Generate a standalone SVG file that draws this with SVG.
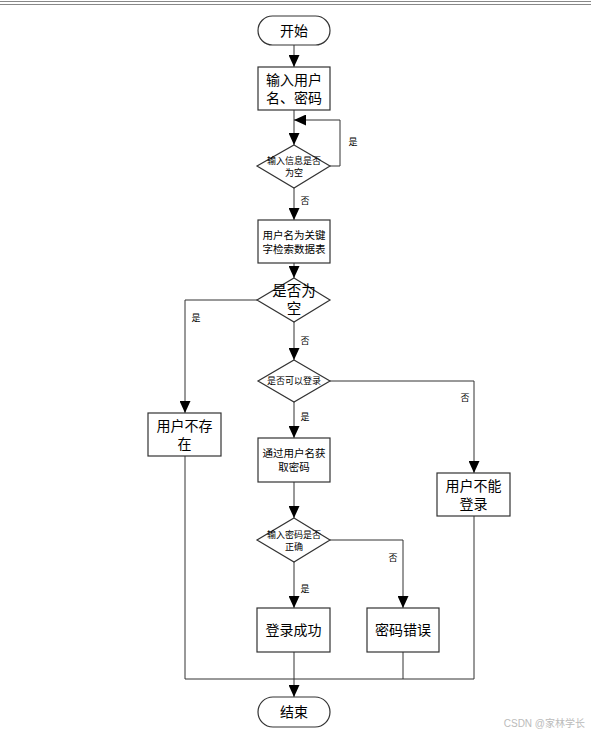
<svg xmlns="http://www.w3.org/2000/svg" width="591" height="737" viewBox="0 0 591 737">
<defs>
<marker id="arr" viewBox="0 0 12 11" refX="12" refY="5.5" markerWidth="12" markerHeight="11" markerUnits="userSpaceOnUse" orient="auto">
<path d="M0,0 L12,5.5 L0,11 Z" fill="#000"/>
</marker>
<style>
.shape{fill:#fff;stroke:#333;stroke-width:1.2}
.ln{fill:none;stroke:#333;stroke-width:1}
.t{font-family:"Liberation Sans","Noto Sans CJK SC",sans-serif;fill:#000;text-anchor:middle;dominant-baseline:central}
.big{font-size:14px}
.mid{font-size:10.5px}
.sm{font-size:9px}
.lbl{font-size:9px}
</style>
</defs>
<rect width="591" height="737" fill="#fff"/>
<line x1="0" y1="1.5" x2="591" y2="1.5" stroke="#888" stroke-width="1.2"/>
<line x1="0" y1="4.5" x2="591" y2="4.5" stroke="#888" stroke-width="1.2"/>

<g id="connectors">
<line class="ln" x1="294" y1="45" x2="294" y2="67" marker-end="url(#arr)"/>
<line class="ln" x1="294" y1="110" x2="294" y2="145" marker-end="url(#arr)"/>
<polyline class="ln" points="330,166 340,166 340,120 294,120" marker-end="url(#arr)"/>
<line class="ln" x1="294" y1="188" x2="294" y2="220" marker-end="url(#arr)"/>
<line class="ln" x1="294" y1="263" x2="294" y2="278" marker-end="url(#arr)"/>
<polyline class="ln" points="257,300 185,300 185,413" marker-end="url(#arr)"/>
<line class="ln" x1="294" y1="322" x2="294" y2="360" marker-end="url(#arr)"/>
<polyline class="ln" points="330,381 474,381 474,473" marker-end="url(#arr)"/>
<line class="ln" x1="294" y1="402" x2="294" y2="438" marker-end="url(#arr)"/>
<line class="ln" x1="294" y1="482" x2="294" y2="518" marker-end="url(#arr)"/>
<polyline class="ln" points="330,540 403,540 403,608" marker-end="url(#arr)"/>
<line class="ln" x1="294" y1="562" x2="294" y2="608" marker-end="url(#arr)"/>
<polyline class="ln" points="185,456 185,679 474,679 474,516"/>
<line class="ln" x1="403" y1="652" x2="403" y2="679"/>
<line class="ln" x1="294" y1="652" x2="294" y2="697" marker-end="url(#arr)"/>
<text class="t lbl" x="353" y="142">是</text>
<text class="t lbl" x="305" y="201">否</text>
<text class="t lbl" x="196" y="318">是</text>
<text class="t lbl" x="305" y="341">否</text>
<text class="t lbl" x="465" y="398">否</text>
<text class="t lbl" x="305" y="417">是</text>
<text class="t lbl" x="393" y="558">否</text>
<text class="t lbl" x="305" y="589">是</text>
</g>

<g id="start">
<rect class="shape" x="258" y="16" width="72" height="29" rx="14.5"/>
<text class="t big" x="294" y="30.5">开始</text>
</g>
<g id="input">
<rect class="shape" x="258" y="67" width="72" height="43"/>
<text class="t big" x="294" y="80">输入用户</text>
<text class="t big" x="294" y="98">名、密码</text>
</g>
<g id="check-empty">
<polygon class="shape" points="294,145 330,166 294,188 257,166"/>
<text class="t sm" x="294" y="161">输入信息是否</text>
<text class="t sm" x="294" y="173">为空</text>
</g>
<g id="search">
<rect class="shape" x="258" y="220" width="72" height="43"/>
<text class="t mid" x="294" y="235">用户名为关键</text>
<text class="t mid" x="294" y="249">字检索数据表</text>
</g>
<g id="is-null">
<polygon class="shape" points="294,278 330,300 294,322 257,300"/>
<text class="t" style="font-size:14.5px" x="294" y="291">是否为</text>
<text class="t" style="font-size:14.5px" x="294" y="309">空</text>
</g>
<g id="not-exist">
<rect class="shape" x="148" y="413" width="73" height="43"/>
<text class="t big" x="184.5" y="426">用户不存</text>
<text class="t big" x="184.5" y="444">在</text>
</g>
<g id="can-login">
<polygon class="shape" points="294,360 330,381 294,402 258,381"/>
<text class="t sm" x="294" y="381">是否可以登录</text>
</g>
<g id="get-pwd">
<rect class="shape" x="258" y="438" width="72" height="44"/>
<text class="t mid" x="294" y="453">通过用户名获</text>
<text class="t mid" x="294" y="467">取密码</text>
</g>
<g id="cannot-login">
<rect class="shape" x="437" y="473" width="73" height="43"/>
<text class="t big" x="473.5" y="486">用户不能</text>
<text class="t big" x="473.5" y="504">登录</text>
</g>
<g id="pwd-correct">
<polygon class="shape" points="294,518 330,540 294,562 257,540"/>
<text class="t sm" x="294" y="535">输入密码是否</text>
<text class="t sm" x="294" y="547">正确</text>
</g>
<g id="success">
<rect class="shape" x="257" y="608" width="73" height="44"/>
<text class="t big" x="293.5" y="630">登录成功</text>
</g>
<g id="pwd-error">
<rect class="shape" x="367" y="608" width="72" height="44"/>
<text class="t big" x="403" y="630">密码错误</text>
</g>
<g id="end">
<rect class="shape" x="258" y="697" width="72" height="30" rx="15"/>
<text class="t big" x="294" y="712">结束</text>
</g>
<text x="585" y="727" style="font-family:'Liberation Sans','Noto Sans CJK SC',sans-serif;font-size:10px;fill:#bbb;text-anchor:end">CSDN @家林学长</text>
</svg>
